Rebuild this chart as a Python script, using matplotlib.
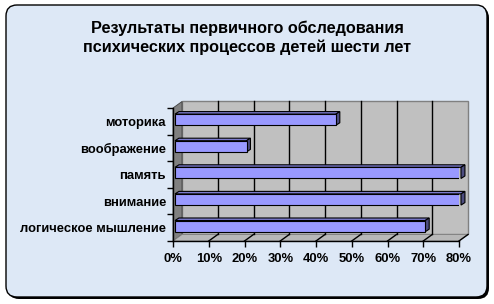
import matplotlib.pyplot as plt
from matplotlib.patches import Polygon, FancyBboxPatch, Rectangle

plt.rcParams['font.family'] = ['Liberation Sans', 'DejaVu Sans']

categories = ['логическое мышление', 'внимание', 'память', 'воображение', 'моторика']
values = [70, 80, 80, 20, 45]
xticks = [0, 10, 20, 30, 40, 50, 60, 70, 80]
title = 'Результаты первичного обследования\nпсихических процессов детей шести лет'

W, H = 494, 304
fig = plt.figure(figsize=(W / 100, H / 100), dpi=100)
fig.patch.set_facecolor('white')

# rounded frame with shadow (pixel coords)
shadow = FancyBboxPatch((8, 5), 481, 292, boxstyle='round,pad=0,rounding_size=11',
                        transform=None, facecolor='black', edgecolor='none', zorder=-3)
frame = FancyBboxPatch((6, 7), 481, 292, boxstyle='round,pad=0,rounding_size=11',
                       transform=None, facecolor='#dde8f6', edgecolor='black', lw=1.0, zorder=-2)
fig.patches.extend([shadow, frame])

fig.text(0.5, 1 - 38 / H, title, ha='center', va='center', fontsize=11.7,
         fontweight='bold', linespacing=1.3)

# axes = front plane of the 3D box
ax = fig.add_axes([173 / W, 1 - 241 / H, (459 - 173) / W, (241 - 108) / H])
ax.set_xlim(0, 80)
ax.set_ylim(-0.5, len(categories) - 0.5)
ax.patch.set_visible(False)
for s in ['top', 'right']:
    ax.spines[s].set_visible(False)
for s in ['left', 'bottom']:
    ax.spines[s].set_color('black')
    ax.spines[s].set_linewidth(1.0)
    ax.spines[s].set_zorder(6)

# depth of the box in data units
dx, dy = 2.52, 0.245
y0, y1 = -0.5, len(categories) - 0.5
x1 = xticks[-1]

back = Rectangle((dx, y0 + dy), x1, y1 - y0, facecolor='#c0c0c0', edgecolor='#808080',
                 lw=1.0, clip_on=False, zorder=0)
left = Polygon([(0, y0), (0, y1), (dx, y1 + dy), (dx, y0 + dy)], closed=True,
               facecolor='#808080', edgecolor='#404040', lw=0.6, clip_on=False, zorder=1)
floor = Polygon([(0, y0), (x1, y0), (x1 + dx, y0 + dy), (dx, y0 + dy)], closed=True,
                facecolor='#b8b8b8', edgecolor='#808080', lw=0.6, clip_on=False, zorder=1)
for p in (back, left, floor):
    ax.add_patch(p)

for t in xticks[1:-1]:
    ax.plot([t + dx, t + dx], [y0 + dy, y1 + dy], color='black', lw=1.0, clip_on=False, zorder=2)
for t in xticks[1:]:
    ax.plot([t, t + dx], [y0, y0 + dy], color='black', lw=1.0, clip_on=False, zorder=2)

# bars
ox, oy = 0.56, 0.06
h = 0.42
bdx, bdy = 1.1, 0.095
ypos = list(range(len(categories)))
ax.barh([y + oy for y in ypos], values, left=ox, height=h, color='#9999ff',
        edgecolor='black', lw=0.8, zorder=4)
for y, v in zip(ypos, values):
    yt = y + oy + h / 2
    yb = y + oy - h / 2
    xe = ox + v
    top = Polygon([(ox, yt), (xe, yt), (xe + bdx, yt + bdy), (ox + bdx, yt + bdy)], closed=True,
                  facecolor='#7a7acc', edgecolor='black', lw=0.8, clip_on=False, zorder=3)
    side = Polygon([(xe, yb), (xe, yt), (xe + bdx, yt + bdy), (xe + bdx, yb + bdy)], closed=True,
                   facecolor='#4d4d80', edgecolor='black', lw=0.8, clip_on=False, zorder=3)
    ax.add_patch(top)
    ax.add_patch(side)

ax.set_xticks(xticks)
ax.set_xticklabels([f'{t}%' for t in xticks], fontsize=9.4, fontweight='bold')
ax.tick_params(axis='x', direction='out', length=4, width=1.0, pad=5)
ax.set_yticks(ypos)
ax.set_yticklabels(categories, fontsize=9.4, fontweight='bold')
ax.set_yticks([y - 0.5 for y in ypos] + [y1], minor=True)
ax.tick_params(axis='y', which='major', length=0, pad=5)
ax.tick_params(axis='y', which='minor', direction='out', length=4, width=1.0)

fig.savefig('out.png', dpi=100, facecolor='white')
